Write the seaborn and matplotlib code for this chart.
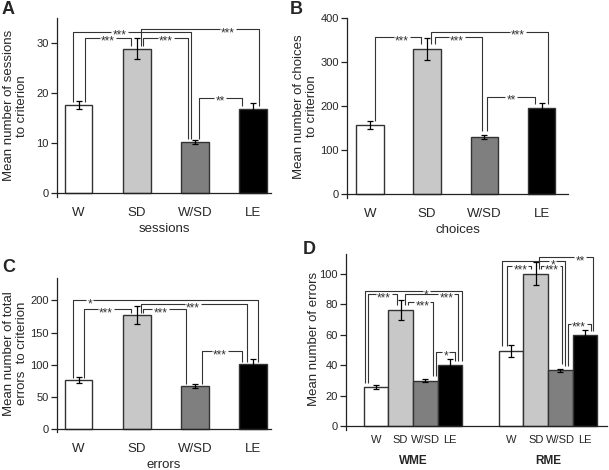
import numpy as np
import pandas as pd
import matplotlib
matplotlib.use("Agg")
import matplotlib.pyplot as plt
import matplotlib.transforms as mtransforms
import seaborn as sns

groups = ["W", "SD", "W/SD", "LE"]
bar_colors = ["#ffffff", "#c8c8c8", "#7f7f7f", "#000000"]

sessions_mean = [17.6, 28.9, 10.2, 16.9]
sessions_sem = [0.85, 2.1, 0.4, 1.1]
choices_mean = [156, 330, 130, 195]
choices_sem = [9, 25, 4, 12]
errors_mean = [76, 177, 67, 101]
errors_sem = [4, 14, 3, 8]
wme_mean = [25.6, 76.3, 29.9, 40.0]
wme_sem = [1.3, 6.4, 0.9, 4.0]
rme_mean = [49.4, 100.0, 36.8, 59.8]
rme_sem = [3.8, 7.5, 1.0, 3.5]

# significance brackets: (group a, group b, label, level, leg offset a, leg offset b, label pos)
sessions_sig = [("W", "W/SD", "***", 32.3, -0.18, -0.12, 0.39),
                ("W", "SD", "***", 31.1, 0.22, -0.20, 0.5),
                ("SD", "W/SD", "***", 31.1, 0.24, -0.24, 0.5),
                ("SD", "LE", "***", 32.8, 0.16, 0.20, 0.74),
                ("W/SD", "LE", "**", 19.1, 0.14, -0.40, 0.5)]
choices_sig = [("W", "SD", "***", 357, 0.20, -0.24, 0.58),
               ("SD", "W/SD", "***", 357, 0.30, -0.10, 0.46),
               ("SD", "LE", "***", 369, 0.15, 0.24, 0.74),
               ("W/SD", "LE", "**", 221, 0.11, -0.24, 0.5)]
errors_sig = [("W", "LE", "*", 200, -0.20, 0.17, 0.09),
              ("W", "SD", "***", 186, 0.18, -0.22, 0.47),
              ("SD", "LE", "***", 194, 0.14, -0.22, 0.49),
              ("SD", "W/SD", "***", 186, 0.23, -0.30, 0.4),
              ("W/SD", "LE", "***", 121, 0.24, -0.40, 0.46)]
wme_sig = [("W", "LE", "*", 88.5, -0.45, 0.49, 0.63),
           ("W", "SD", "***", 86.5, -0.33, -0.14, 0.55),
           ("SD", "LE", "***", 86.5, 0.18, 0.33, 0.78),
           ("SD", "W/SD", "***", 81.4, 0.30, 0.33, 0.56),
           ("W/SD", "LE", "*", 48.7, 0.45, 0.20, 0.5)]
rme_sig = [("SD", "LE", "**", 111, 0.14, 0.33, 0.76),
           ("W", "W/SD", "*", 108.3, -0.37, 0.20, 0.8),
           ("W", "SD", "***", 105, -0.16, -0.18, 0.55),
           ("SD", "W/SD", "***", 105, 0.22, 0.08, 0.5),
           ("W/SD", "LE", "***", 67.3, 0.33, 0.24, 0.47)]

W, H = 609, 470
DPI = 100
sns.set_style("ticks")
plt.rcParams["font.family"] = ["Liberation Sans", "DejaVu Sans"]

fig = plt.figure(figsize=(W / DPI, H / DPI), dpi=DPI)


def rect(l, r, t, b):
    return [l / W, 1 - b / H, (r - l) / W, (b - t) / H]


def style_axes(ax, ymax, yticks):
    ax.set_ylim(-0.022 * ymax, ymax)
    ax.spines["bottom"].set_position(("data", 0))
    for s in ["top", "right"]:
        ax.spines[s].set_visible(False)
    for s in ["left", "bottom"]:
        ax.spines[s].set_color("#222222")
        ax.spines[s].set_linewidth(0.9)
    ax.set_yticks(yticks)
    ax.tick_params(axis="y", length=4, width=0.9, pad=2, labelsize=8, color="#222222")


def bracket(ax, x1, x2, level, b1, b2, label, frac, fs=8.5):
    xt = x1 + frac * (x2 - x1)
    ppu = ax.get_window_extent().width / (ax.get_xlim()[1] - ax.get_xlim()[0])
    half = (len(label) * 0.389 * fs * DPI / 72 / 2 + 1.2) / ppu
    kw = dict(color="#333333", lw=0.8, solid_capstyle="butt", zorder=4)
    ax.plot([x1, x1, xt - half], [b1, level, level], **kw)
    ax.plot([xt + half, x2, x2], [level, level, b2], **kw)
    tr = mtransforms.offset_copy(ax.transData, fig=fig, y=-0.6 * fs, units="points")
    ax.text(xt, level, label, ha="center", va="baseline", fontsize=fs,
            color="#333333", transform=tr, zorder=5)


def draw_sig(ax, xs, means, sems, sig, bw, gap):
    idx = {g: k for k, g in enumerate(groups)}
    for a, b, label, level, oa, ob, frac in sig:
        ia, ib = idx[a], idx[b]
        ba = means[ia] + gap + (sems[ia] if abs(oa) < 0.12 else 0)
        bb = means[ib] + gap + (sems[ib] if abs(ob) < 0.12 else 0)
        bracket(ax, xs[ia] + oa * bw, xs[ib] + ob * bw, level, ba, bb, label, frac)


def simple_panel(r, xlim, means, sems, ymax, yticks, xlabel, ylabel, ylab_x, sig, gap):
    ax = fig.add_axes(rect(*r))
    bw = 0.48
    df = pd.DataFrame({"group": groups, "mean": means})
    sns.barplot(data=df, x="group", y="mean", hue="group", palette=bar_colors,
                width=bw, edgecolor="#333333", linewidth=1.0, legend=False, ax=ax)
    xs = np.arange(len(groups))
    ax.errorbar(xs, means, yerr=sems, fmt="none", ecolor="black",
                elinewidth=0.9, capsize=2.5, capthick=0.9, zorder=3)
    ax.set_xlim(*xlim)
    style_axes(ax, ymax, yticks)
    ax.tick_params(axis="x", length=0, pad=10, labelsize=9.5)
    ax.set_xlabel(xlabel, fontsize=9.5, labelpad=3)
    ax.set_ylabel(ylabel, fontsize=9.5, linespacing=1.2)
    ax.yaxis.label.set_va("center")
    ax.yaxis.set_label_coords(ylab_x, 0.51)
    draw_sig(ax, xs, means, sems, sig, bw, gap)
    return ax


simple_panel((57, 271, 18, 197), (-0.37, 3.31), sessions_mean, sessions_sem, 35,
             [0, 10, 20, 30], "sessions", "Mean number of sessions\nto criterion",
             -0.194, sessions_sig, 0.6)
simple_panel((347, 568, 18, 198), (-0.40, 3.46), choices_mean, choices_sem, 400,
             [0, 100, 200, 300, 400], "choices", "Mean number of choices\nto criterion",
             -0.188, choices_sig, 10)
simple_panel((57, 271, 278, 432), (-0.37, 3.31), errors_mean, errors_sem, 235,
             [0, 50, 100, 150, 200], "errors", "Mean number of total\nerrors  to criterion",
             -0.194, errors_sig, 3)

# panel D
axd = fig.add_axes(rect(346, 607, 254, 430))
wd = 0.73
measures = ["WME", "RME"]
dfd = pd.DataFrame({"measure": np.repeat(measures, 4),
                    "group": groups * 2,
                    "mean": wme_mean + rme_mean})
sns.barplot(data=dfd, x="measure", y="mean", hue="group", hue_order=groups,
            palette=bar_colors, width=wd, gap=0, edgecolor="#333333", linewidth=1.0,
            legend=False, ax=axd)
bwd = wd / 4
offs = (np.arange(4) - 1.5) * bwd
axd.set_xlim(-0.496, 1.437)
style_axes(axd, 113, [0, 20, 40, 60, 80, 100])
axd.set_ylabel("Mean number of errors", fontsize=9.5)
axd.yaxis.label.set_va("center")
axd.yaxis.set_label_coords(-0.123, 0.52)
ticks, labels = [], []
for m, (means, sems, sig) in enumerate([(wme_mean, wme_sem, wme_sig),
                                         (rme_mean, rme_sem, rme_sig)]):
    xs = m + offs
    axd.errorbar(xs, means, yerr=sems, fmt="none", ecolor="black",
                 elinewidth=0.9, capsize=2.5, capthick=0.9, zorder=3)
    draw_sig(axd, xs, means, sems, sig, bwd, 3)
    ticks += list(xs)
    labels += groups
    axd.annotate(measures[m], xy=(m, 0), xycoords=("data", "axes fraction"),
                 xytext=(0, -22.5), textcoords="offset points", ha="center", va="center",
                 fontsize=8.5, fontweight="bold")
axd.set_xticks(ticks)
axd.set_xticklabels(labels)
axd.tick_params(axis="x", length=0, pad=6, labelsize=8)
axd.set_xlabel("")

for letter, x, y in [("A", 2, 9), ("B", 290, 9), ("C", 2, 267), ("D", 303, 250)]:
    fig.text(x / W, 1 - y / H, letter, fontsize=13, fontweight="bold",
             ha="left", va="center")

fig.savefig("out.png", dpi=DPI)
